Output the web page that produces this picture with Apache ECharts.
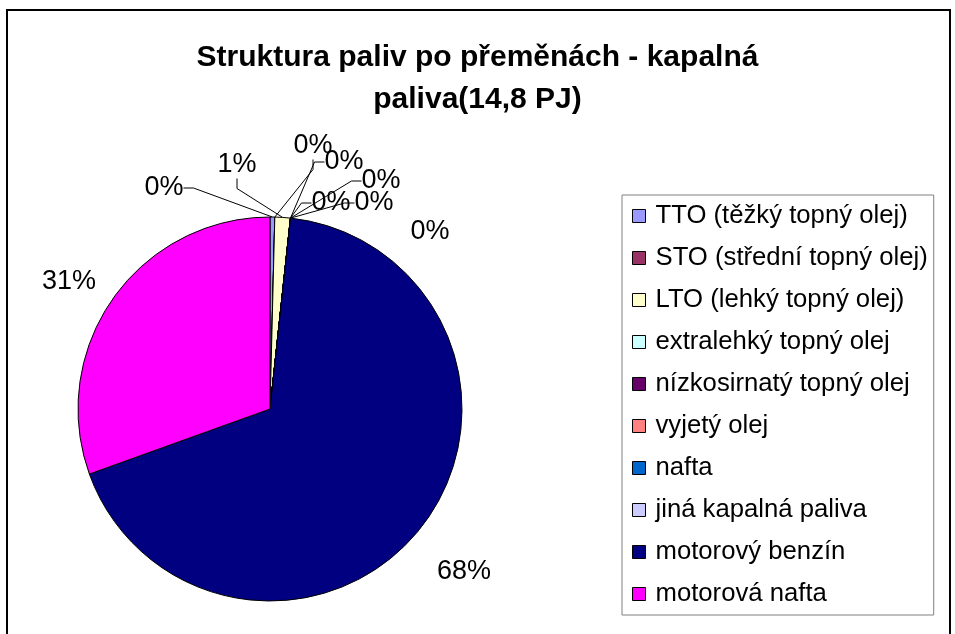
<!DOCTYPE html>
<html>
<head>
<meta charset="utf-8">
<script src="https://cdn.jsdelivr.net/npm/echarts@6/dist/echarts.min.js"></script>
<style>
  html, body { margin: 0; padding: 0; background: #fff; }
  #chart { width: 955px; height: 634px; }
</style>
</head>
<body>
<div id="chart"></div>
<script>
// categories and shares (%)
const categories = [
  'TTO (těžký topný olej)',
  'STO (střední topný olej)',
  'LTO (lehký topný olej)',
  'extralehký topný olej',
  'nízkosirnatý topný olej',
  'vyjetý olej',
  'nafta',
  'jiná kapalná paliva',
  'motorový benzín',
  'motorová nafta'
]
const shares = [0.4, 0, 1.3, 0, 0, 0, 0, 0, 67.8, 30.5]
const colors = ['#9999FF', '#993366', '#FFFFCC', '#CCFFFF', '#660066',
  '#FF8080', '#0066CC', '#CCCCFF', '#000080', '#FF00FF']

// where the excel-style labels sit (label centres), by slice index
const labelSpots = [
  [164, 188], [313, 146], [237, 165], [344, 162], [381, 181],
  [331, 203], [374, 203], [430, 232], [464, 572], [69, 282]
]
const noLine = [7, 8, 9]

const myChart = echarts.init(document.getElementById('chart'))
const font = '"Liberation Sans", Arial, sans-serif'

const option = {
  animation: false,
  textStyle: { fontFamily: font },
  title: {
    text: 'Struktura paliv po přeměnách - kapalná\npaliva(14,8 PJ)',
    left: 'center',
    top: 32,
    textStyle: {
      fontFamily: font,
      fontWeight: 'bold',
      fontSize: 30,
      lineHeight: 42,
      color: '#000'
    }
  },
  legend: {
    orient: 'vertical',
    left: 622,
    top: 195,
    padding: [7, 6, 7, 10],
    borderColor: '#808080',
    borderWidth: 1,
    itemWidth: 13,
    itemHeight: 13,
    itemGap: 14,
    icon: 'rect',
    itemStyle: { borderColor: '#000', borderWidth: 1 },
    textStyle: {
      fontFamily: font,
      fontSize: 25.7,
      lineHeight: 28,
      color: '#000',
      padding: [0, 0, 0, 5]
    },
    data: categories
  },
  graphic: [{
    type: 'rect',
    shape: { x: 7, y: 10, width: 943, height: 700 },
    style: { fill: 'none', stroke: '#000', lineWidth: 2 },
    silent: true
  }],
  series: [{
    type: 'pie',
    center: [270, 409],
    radius: 192,
    startAngle: 90,
    clockwise: true,
    color: colors,
    avoidLabelOverlap: false,
    itemStyle: { borderColor: '#000', borderWidth: 1 },
    label: {
      show: true,
      position: 'outside',
      fontFamily: font,
      fontSize: 27,
      color: '#000',
      formatter: p => Math.round(p.percent) + '%'
    },
    labelLine: {
      show: true,
      length: 10,
      length2: 10,
      lineStyle: { color: '#000', width: 1 }
    },
    labelLayout: p => {
      const s = labelSpots[p.dataIndex]
      return { x: s[0], y: s[1], align: 'center', verticalAlign: 'middle' }
    },
    emphasis: { disabled: true },
    data: categories.map((name, i) => ({
      name,
      value: shares[i],
      labelLine: { show: noLine.indexOf(i) < 0 }
    }))
  }]
}

myChart.setOption(option)
</script>
</body>
</html>
